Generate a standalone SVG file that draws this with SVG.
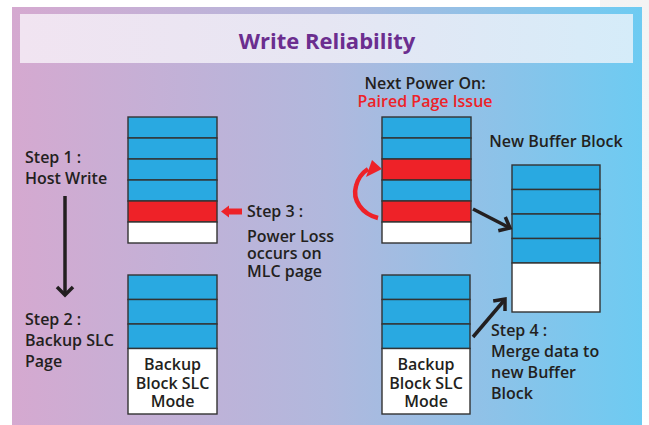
<svg xmlns="http://www.w3.org/2000/svg" width="649" height="425" viewBox="0 0 649 425">
<defs>
<linearGradient id="bg" x1="0" y1="0" x2="1" y2="0">
<stop offset="0" stop-color="#d5a9d0"/>
<stop offset="0.5" stop-color="#b1b8dd"/>
<stop offset="1" stop-color="#6dcbf2"/>
</linearGradient>
<linearGradient id="tb" x1="0" y1="0" x2="1" y2="0">
<stop offset="0" stop-color="#f1e4f1"/>
<stop offset="0.5" stop-color="#e6e6f3"/>
<stop offset="1" stop-color="#d5ecf9"/>
</linearGradient>
<linearGradient id="edge" x1="0" y1="0" x2="0" y2="1">
<stop offset="0" stop-color="#f3f3f3"/>
<stop offset="1" stop-color="#ffffff"/>
</linearGradient>
<style>
.cell{stroke:#333;stroke-width:1.4}
.b{fill:#29a9e1}
.r{fill:#ee2228}
.w{fill:#ffffff}
.t{font-family:"Open Sans","Liberation Sans",sans-serif;font-weight:600;font-size:16px;fill:#231f20}
.c{text-anchor:middle}
.red{fill:#ee2228}
.ln{stroke:#231f20;stroke-width:3.5;fill:none;stroke-linecap:butt;stroke-linejoin:miter}
</style>
</defs>
<rect width="649" height="425" fill="#ffffff"/>
<rect x="600" y="0" width="49" height="425" fill="url(#edge)"/>
<rect x="12" y="7" width="630" height="418" fill="url(#bg)"/>
<g id="title">
<rect x="20" y="14" width="613" height="49" fill="url(#tb)"/>
<text x="327" y="49" text-anchor="middle" font-family="Open Sans, Liberation Sans, sans-serif" font-weight="700" font-size="22" fill="#6b2e8f">Write Reliability</text>
</g>
<g id="mlc-block-left">
<rect class="cell b" x="128" y="117" width="89" height="21"/>
<rect class="cell b" x="128" y="138" width="89" height="21"/>
<rect class="cell b" x="128" y="159" width="89" height="21"/>
<rect class="cell b" x="128" y="180" width="89" height="21"/>
<rect class="cell r" x="128" y="201" width="89" height="21"/>
<rect class="cell w" x="128" y="222" width="89" height="21"/>
</g>
<g id="backup-block-left">
<rect class="cell b" x="128" y="275" width="89" height="24.5"/>
<rect class="cell b" x="128" y="299.5" width="89" height="24.5"/>
<rect class="cell b" x="128" y="324" width="89" height="24.5"/>
<rect class="cell w" x="128" y="348.5" width="89" height="65.5"/>
<text class="t c" x="172.5" y="370">Backup</text>
<text class="t c" x="172.5" y="389">Block SLC</text>
<text class="t c" x="172.5" y="407">Mode</text>
</g>
<g id="mlc-block-right">
<rect class="cell b" x="382" y="117" width="89" height="21"/>
<rect class="cell b" x="382" y="138" width="89" height="21"/>
<rect class="cell r" x="382" y="159" width="89" height="21"/>
<rect class="cell b" x="382" y="180" width="89" height="21"/>
<rect class="cell r" x="382" y="201" width="89" height="21"/>
<rect class="cell w" x="382" y="222" width="89" height="21"/>
</g>
<g id="backup-block-right">
<rect class="cell b" x="382" y="275" width="88" height="24.5"/>
<rect class="cell b" x="382" y="299.5" width="88" height="24.5"/>
<rect class="cell b" x="382" y="324" width="88" height="24.5"/>
<rect class="cell w" x="382" y="348.5" width="88" height="65.5"/>
<text class="t c" x="426" y="370">Backup</text>
<text class="t c" x="426" y="389">Block SLC</text>
<text class="t c" x="426" y="407">Mode</text>
</g>
<g id="new-buffer-block">
<rect class="cell b" x="512" y="165" width="88" height="24.5"/>
<rect class="cell b" x="512" y="189.5" width="88" height="24.5"/>
<rect class="cell b" x="512" y="214" width="88" height="24.5"/>
<rect class="cell b" x="512" y="238.5" width="88" height="24.5"/>
<rect class="cell w" x="512" y="263" width="88" height="49"/>
<text class="t c" x="556" y="147">New Buffer Block</text>
</g>
<g id="step1">
<text class="t" x="25" y="163">Step 1 :</text>
<text class="t" x="25" y="184">Host Write</text>
</g>
<g id="step2">
<text class="t" x="25" y="325">Step 2 :</text>
<text class="t" x="25" y="346">Backup SLC</text>
<text class="t" x="25" y="367">Page</text>
</g>
<g id="step3">
<text class="t" x="247" y="217">Step 3 :</text>
<text class="t" x="247" y="242">Power Loss</text>
<text class="t" x="247" y="259">occurs on</text>
<text class="t" x="247" y="277">MLC page</text>
</g>
<g id="next-power-on">
<text class="t c" x="425" y="89">Next Power On:</text>
<text class="t c red" x="425" y="106.5">Paired Page Issue</text>
</g>
<g id="step4">
<text class="t" x="491" y="336">Step 4 :</text>
<text class="t" x="491" y="357">Merge data to</text>
<text class="t" x="491" y="378">new Buffer</text>
<text class="t" x="491" y="399">Block</text>
</g>
<g id="connectors">
<path class="ln" d="M65,196 V294"/>
<path class="ln" d="M57,287 L65,295 L73,287"/>
<polygon class="red" points="221,211.5 229,205.5 229,217.5"/>
<rect class="red" x="228" y="208.5" width="14" height="6"/>
<path d="M378,218 C362,214 352,200 356,186 C358,178 362,173 368,169" fill="none" stroke="#ee2228" stroke-width="4.5"/>
<polygon class="red" points="372,160 382,169 366,177"/>
<path class="ln" d="M473,209 L509,227.5"/>
<path class="ln" d="M505.3,217 L510,228 L498.3,230.7"/>
<path class="ln" d="M473,337 L504,300.5"/>
<path class="ln" d="M493.2,301 L505,299 L505,311"/>
</g>
</svg>
